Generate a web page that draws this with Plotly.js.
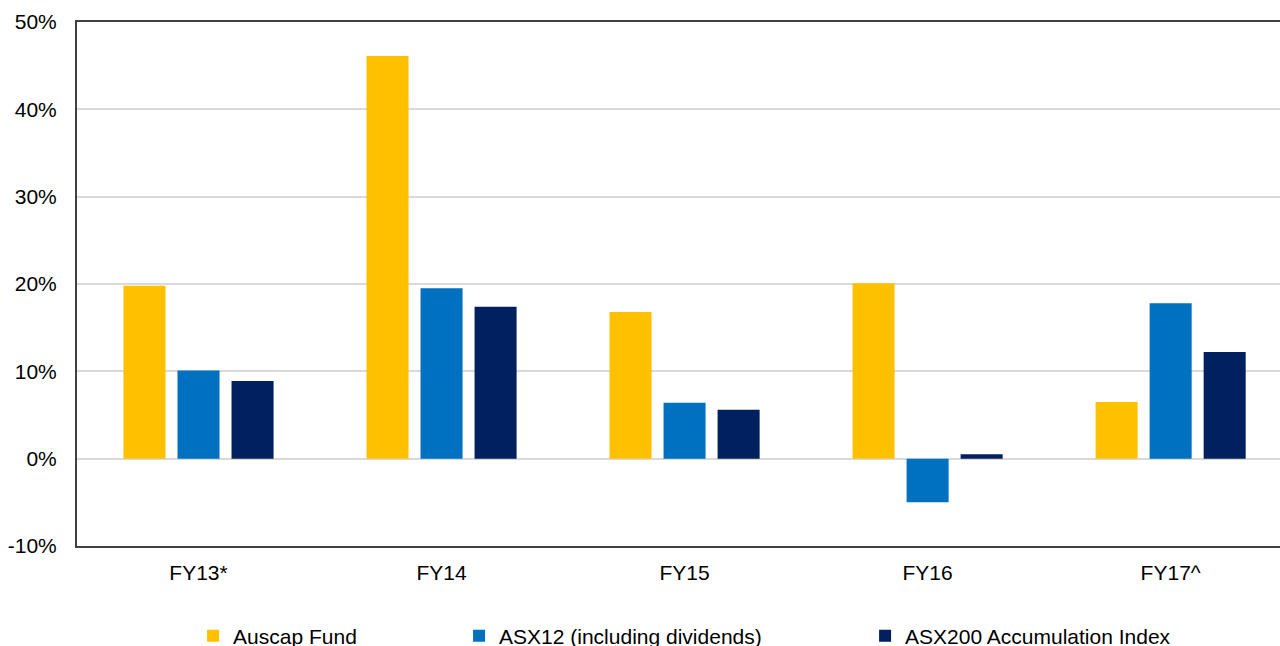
<!DOCTYPE html>
<html>
<head>
<meta charset="utf-8">
<script src="https://cdn.plot.ly/plotly-3.0.1.min.js"></script>
<style>
html,body{margin:0;padding:0;background:#fff;}
#chart{width:1280px;height:646px;}
</style>
</head>
<body>
<div id="chart"></div>
<script>
var categories = ["FY13*", "FY14", "FY15", "FY16", "FY17^"];
var auscapFund = [19.8, 46.1, 16.8, 20.1, 6.5];
var asx12 = [10.1, 19.5, 6.4, -5.0, 17.8];
var asx200 = [8.9, 17.4, 5.6, 0.5, 12.2];
var seriesNames = ["Auscap Fund", "ASX12 (including dividends)", "ASX200 Accumulation Index"];
var yTickVals = [-10, 0, 10, 20, 30, 40, 50];
var yTickText = ["-10%", "0%", "10%", "20%", "30%", "40%", "50%"];

var colors = ["#FFC000", "#0070C0", "#002060"];
var seriesData = [auscapFund, asx12, asx200];
var legendIds = ["legend", "legend2", "legend3"];

var traces = seriesData.map(function (vals, i) {
  return {
    type: "bar",
    x: categories,
    y: vals,
    name: seriesNames[i],
    legend: legendIds[i],
    marker: {color: colors[i], line: {width: 0}},
    hoverinfo: "x+y+name"
  };
});

var font = {family: "Liberation Sans, Arial, sans-serif", size: 21, color: "#000"};

function legendAt(x) {
  return {
    orientation: "h",
    x: x, xanchor: "left",
    y: -0.172, yanchor: "middle",
    font: font,
    bgcolor: "rgba(0,0,0,0)",
    itemwidth: 30,
    itemclick: false, itemdoubleclick: false
  };
}

var layout = {
  width: 1280,
  height: 646,
  margin: {l: 77, r: 0, t: 22, b: 100, pad: 0, autoexpand: false},
  paper_bgcolor: "#fff",
  plot_bgcolor: "#fff",
  font: font,
  barmode: "group",
  bargap: 0.333,
  bargroupgap: 0.222,
  showlegend: true,
  legend: legendAt(0.0965),
  legend2: legendAt(0.3176),
  legend3: legendAt(0.6551),
  xaxis: {
    type: "category",
    range: [-0.5, 4.45],
    showline: true,
    linecolor: "#404040",
    linewidth: 2,
    mirror: true,
    showgrid: false,
    ticks: "",
    ticklabelstandoff: 7,
    tickfont: font,
    zeroline: false,
    fixedrange: true
  },
  yaxis: {
    range: [-10, 50],
    tickvals: yTickVals,
    ticktext: yTickText,
    showline: true,
    linecolor: "#404040",
    linewidth: 2,
    showgrid: true,
    gridcolor: "#D9D9D9",
    gridwidth: 2,
    zeroline: true,
    zerolinecolor: "#D9D9D9",
    zerolinewidth: 2,
    ticks: "",
    ticklabelstandoff: 14,
    tickfont: font,
    fixedrange: true
  }
};

Plotly.newPlot("chart", traces, layout, {displayModeBar: false});
</script>
</body>
</html>
